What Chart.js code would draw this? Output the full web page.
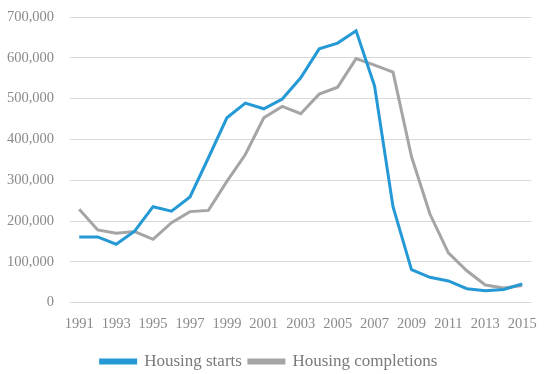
<!DOCTYPE html>
<html>
<head>
<meta charset="utf-8">
<script src="https://cdn.jsdelivr.net/npm/chart.js@4/dist/chart.umd.min.js"></script>
<style>
	html, body { margin: 0; padding: 0; background: #fff; }
	#wrap { width: 550px; height: 374px; position: relative; }
</style>
</head>
<body>
<div id="wrap"><canvas id="chart1"></canvas></div>
<script>
// years
var years = ['1991', '1992', '1993', '1994', '1995', '1996', '1997', '1998', '1999', '2000',
	'2001', '2002', '2003', '2004', '2005', '2006', '2007', '2008', '2009', '2010',
	'2011', '2012', '2013', '2014', '2015'];

// Housing starts
var starts = [161000, 161000, 143000, 175000, 235000, 224000, 259000, 355000, 453000, 489000,
	475000, 499000, 551000, 622000, 636000, 666000, 531000, 235000, 81000, 62000,
	53000, 34000, 29000, 32000, 46000];

// Housing completions
var completions = [229000, 178000, 170000, 174000, 155000, 196000, 223000, 226000, 297000, 363000,
	453000, 481000, 463000, 511000, 528000, 598000, 582000, 565000, 358000, 217000,
	122000, 78000, 43000, 36000, 42000];

var yTicks = [0, 100000, 200000, 300000, 400000, 500000, 600000, 700000];

var font = '"Liberation Serif", "DejaVu Serif", serif';

var ctx1 = document.getElementById('chart1');

var config1 = {
	type: 'line',
	data: {
		labels: years,
		datasets: [
			{
				label: 'Housing starts',
				data: starts,
				borderColor: '#2599d5',
				backgroundColor: '#2599d5',
				borderWidth: 3,
				pointRadius: 0,
				tension: 0
			},
			{
				label: 'Housing completions',
				data: completions,
				borderColor: '#a5a5a5',
				backgroundColor: '#a5a5a5',
				borderWidth: 3,
				pointRadius: 0,
				tension: 0
			}
		]
	},
	options: {
		responsive: true,
		maintainAspectRatio: false,
		animation: false,
		layout: {
			padding: { top: 0, right: 14, left: 2, bottom: -6 }
		},
		scales: {
			x: {
				offset: true,
				grid: { display: false, drawTicks: false },
				border: { display: false },
				ticks: {
					autoSkip: false,
					maxRotation: 0,
					padding: 13,
					color: '#8a8a8a',
					font: { family: font, size: 14.5 },
					callback: function(v, i) {
						return i % 2 === 0 ? years[i] : '';
					}
				}
			},
			y: {
				min: 0,
				max: 700000,
				afterBuildTicks: function(axis) {
					axis.ticks = yTicks.map(function(v) { return { value: v }; });
				},
				afterFit: function(axis) {
					axis.width = 68;
					axis.paddingTop = 17;
					axis.paddingBottom = 9;
				},
				grid: { color: '#d9d9d9', lineWidth: 1, drawTicks: false },
				border: { display: false },
				ticks: {
					padding: 16,
					color: '#8a8a8a',
					font: { family: font, size: 14.5 },
					callback: function(v) {
						return v.toLocaleString('en-US');
					}
				}
			}
		},
		plugins: {
			legend: {
				position: 'bottom',
				labels: {
					boxWidth: 35,
					boxHeight: 3,
					padding: 7,
					color: '#7a7a7a',
					font: { family: font, size: 17 }
				}
			},
			tooltip: { enabled: false }
		}
	}
};

var chart1 = new Chart(ctx1, config1);
</script>
</body>
</html>
